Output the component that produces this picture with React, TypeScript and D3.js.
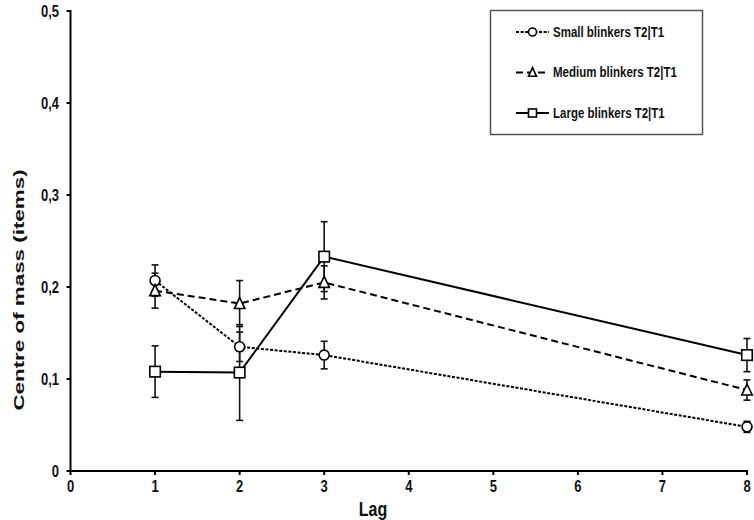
import React from "react";
import * as d3 from "d3";

const lags = [1, 2, 3, 8];
const smallVals = [0.207, 0.135, 0.126, 0.048];
const smallErr = [0.017, 0.016, 0.015, 0.006];
const mediumVals = [0.196, 0.182, 0.205, 0.088];
const mediumErr = [0.019, 0.025, 0.018, 0.011];
const largeVals = [0.108, 0.107, 0.233, 0.126];
const largeErr = [0.028, 0.052, 0.038, 0.018];
const xTicks = [0, 1, 2, 3, 4, 5, 6, 7, 8];
const yTicks = [0, 0.1, 0.2, 0.3, 0.4, 0.5];
const seriesNames = ["Small blinkers T2|T1", "Medium blinkers T2|T1", "Large blinkers T2|T1"];

const W = 754;
const H = 520;
const FONT = "'Liberation Sans', Arial, sans-serif";

type Series = { name: string; vals: number[]; err: number[]; dash: string; shape: "circle" | "triangle" | "square" };

const series: Series[] = [
  { name: seriesNames[0], vals: smallVals, err: smallErr, dash: "3,1.6", shape: "circle" },
  { name: seriesNames[1], vals: mediumVals, err: mediumErr, dash: "7,4", shape: "triangle" },
  { name: seriesNames[2], vals: largeVals, err: largeErr, dash: "", shape: "square" },
];

function Marker({ shape, cx, cy, s }: { shape: string; cx: number; cy: number; s: number }) {
  const common = { fill: "#fff", stroke: "#000", strokeWidth: 1.6 };
  if (shape === "circle") return <circle cx={cx} cy={cy} r={s / 2} {...common} />;
  if (shape === "square") return <rect x={cx - s / 2} y={cy - s / 2} width={s} height={s} {...common} />;
  const h = s * 0.95;
  return (
    <path
      d={`M${cx},${cy - h / 2 - 1}L${cx + s / 2},${cy + h / 2}L${cx - s / 2},${cy + h / 2}Z`}
      {...common}
    />
  );
}

function SText({
  x,
  y,
  sx = 1,
  sy = 1.22,
  rotate = 0,
  anchor = "start",
  size,
  children,
}: {
  x: number;
  y: number;
  sx?: number;
  sy?: number;
  rotate?: number;
  anchor?: string;
  size: number;
  children: React.ReactNode;
}) {
  return (
    <g transform={`translate(${x},${y}) rotate(${rotate}) scale(${sx},${sy})`}>
      <text x={0} y={0} dy="0.36em" textAnchor={anchor} fontSize={size} fontWeight="bold" fill="#111">
        {children}
      </text>
    </g>
  );
}

export default function App() {
  const x = d3.scaleLinear().domain([0, 8]).range([70.5, 747]);
  const y = d3.scaleLinear().domain([0, 0.5]).range([471, 11]);

  const line = d3
    .line<number>()
    .x((_, i) => x(lags[i]))
    .y((v) => y(v));

  return (
    <svg
      width={W}
      height={H}
      style={{ position: "absolute", left: 0, top: 0, background: "#fff" }}
      fontFamily={FONT}
    >
      <rect x={0} y={0} width={W} height={H} fill="#fff" />

      {/* error bars */}
      {series.map((s) =>
        s.vals.map((v, i) => {
          const cx = x(lags[i]);
          const y1 = y(v + s.err[i]);
          const y2 = y(v - s.err[i]);
          return (
            <g key={s.name + i} stroke="#111" strokeWidth={1.6}>
              <line x1={cx} x2={cx} y1={y1} y2={y2} />
              <line x1={cx - 3.5} x2={cx + 3.5} y1={y1} y2={y1} />
              <line x1={cx - 3.5} x2={cx + 3.5} y1={y2} y2={y2} />
            </g>
          );
        })
      )}

      {/* lines */}
      {series.map((s) => (
        <path
          key={s.name}
          d={line(s.vals) || ""}
          fill="none"
          stroke="#000"
          strokeWidth={2}
          strokeDasharray={s.dash || undefined}
        />
      ))}

      {/* markers */}
      {series.map((s) =>
        s.vals.map((v, i) => (
          <Marker key={s.name + "m" + i} shape={s.shape} cx={x(lags[i])} cy={y(v)} s={s.shape === "circle" ? 10 : 10.5} />
        ))
      )}

      {/* axes */}
      <g stroke="#000" strokeWidth={2}>
        <line x1={x(0)} x2={x(0)} y1={y(0.5) - 1} y2={y(0) + 1} />
        <line x1={x(0) - 1} x2={x(8) + 1} y1={y(0)} y2={y(0)} />
        {yTicks.map((t) => (
          <line key={"yt" + t} x1={x(0) - 4} x2={x(0)} y1={y(t)} y2={y(t)} />
        ))}
        {xTicks.map((t) => (
          <line key={"xt" + t} x1={x(t)} x2={x(t)} y1={y(0)} y2={y(0) + 4} />
        ))}
      </g>
      {yTicks.map((t) => (
        <SText key={"yl" + t} x={59} y={y(t)} anchor="end" size={13}>
          {t === 0 ? "0" : d3.format(".1f")(t).replace(".", ",")}
        </SText>
      ))}
      {xTicks.map((t) => (
        <SText key={"xl" + t} x={x(t)} y={486} anchor="middle" size={13}>
          {t}
        </SText>
      ))}
      <SText x={373} y={509} anchor="middle" size={16} sy={1.3}>
        Lag
      </SText>
      <SText x={19} y={290} rotate={-90} anchor="middle" size={14} sx={1.6} sy={1}>
        Centre of mass (items)
      </SText>

      {/* legend */}
      <rect x={490.5} y={10.5} width={212} height={124} fill="#fff" stroke="#555" strokeWidth={1.5} />
      {series.map((s, i) => {
        const ly = 32 + i * 40.5;
        return (
          <g key={"lg" + s.name}>
            <line
              x1={516}
              x2={549}
              y1={ly}
              y2={ly}
              stroke="#000"
              strokeWidth={1.8}
              strokeDasharray={s.dash || undefined}
            />
            <Marker shape={s.shape} cx={532.5} cy={ly} s={8} />
            <SText x={553} y={ly} size={11.5} sy={1.2}>
              {s.name}
            </SText>
          </g>
        );
      })}
    </svg>
  );
}
